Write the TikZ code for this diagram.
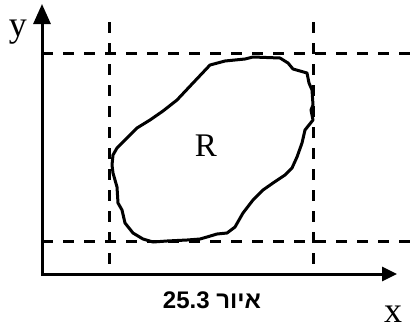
\documentclass[tikz,border=0pt]{standalone}
\usepackage{fontspec}
\setmainfont{Liberation Serif}
\newfontfamily\hebfont[Script=Hebrew]{Liberation Sans}
\TeXXeTstate=1
\usetikzlibrary{arrows.meta}

\begin{document}
\begin{tikzpicture}[
  x=1pt, y=-1pt,
  axis/.style={line width=3pt, {Triangle[length=20pt, width=17pt]}-{Triangle[length=15pt, width=14pt]}},
  guide/.style={line width=3pt, dash pattern=on 11pt off 10pt},
  region/.style={line width=3pt, line join=round},
  lbl/.style={font=\fontsize{33}{33}\selectfont, inner sep=0pt, anchor=base},
  axlbl/.style={lbl, font=\fontsize{36}{36}\selectfont}
]
\useasboundingbox (0,0) rectangle (414,330);

% axes
\coordinate (origin) at (42,274);
\coordinate (ytip) at (42,4);
\coordinate (xtip) at (397,274);
\draw[axis] (ytip) -- (origin) -- (xtip);
\node[axlbl] (ylbl) at (18,36) {y};
\node[axlbl] (xlbl) at (393,322) {x};

% bounding lines
\coordinate (topl) at (42,53);
\coordinate (topr) at (414,53);
\coordinate (botl) at (42,241);
\coordinate (botr) at (414,241);
\coordinate (leftt) at (109,22);
\coordinate (leftb) at (109,274);
\coordinate (rightt) at (313,22);
\coordinate (rightb) at (313,274);
\draw[guide] (topl) -- (topr);
\draw[guide] (botl) -- (botr);
\draw[guide] (leftt) -- (leftb);
\draw[guide] (rightt) -- (rightb);

% region
\draw[region] plot coordinates {
  (210,65) (225,61) (245,59) (253,57) (280,58) (288,63) (293,69)
  (307,73) (309,83) (312,90) (313,105) (311,110) (313,120) (305,130)
  (302,143) (297,157) (292,168) (285,175) (273,183) (263,190) (253,200)
  (243,213) (235,227) (227,233) (217,234) (207,237) (200,239) (187,240)
  (167,241) (153,242) (143,239) (133,233) (125,223) (122,210) (118,203)
  (117,187) (113,173) (112,165) (113,155) (117,148) (127,138) (137,128)
  (150,120) (163,111) (177,100) (193,83)
} -- cycle;
\node[lbl] (rlbl) at (206,156) {R};

% caption
\node[font=\hebfont\bfseries\fontsize{24}{24}\selectfont, inner sep=0pt, anchor=base] (cap) at (212,308)
  {\beginR איור \beginL 25.3\endL\endR};
\end{tikzpicture}
\end{document}
